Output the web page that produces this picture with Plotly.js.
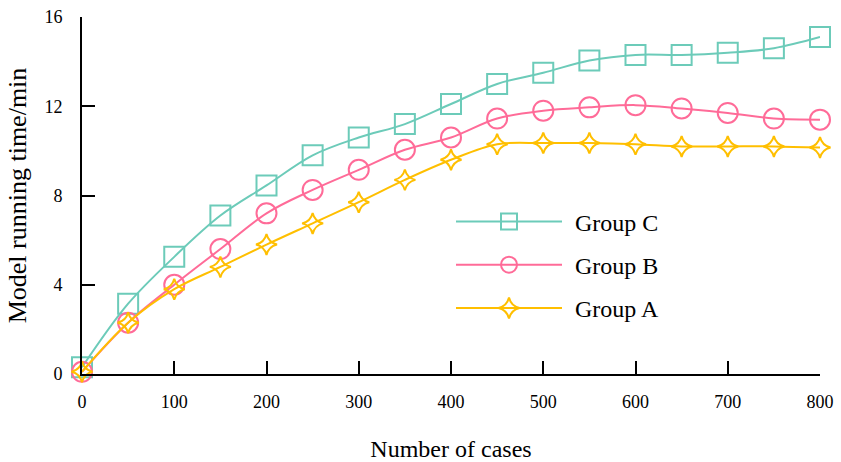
<!DOCTYPE html>
<html>
<head>
<meta charset="utf-8">
<script src="https://cdn.plot.ly/plotly-3.0.1.min.js"></script>
<style>html,body{margin:0;padding:0;background:#fff;}#chart{width:841px;height:462px;}</style>
</head>
<body>
<div id="chart"></div>
<script>
var cases = [0, 50, 100, 150, 200, 250, 300, 350, 400, 450, 500, 550, 600, 650, 700, 750, 800];
var groupC = [0.3, 3.15, 5.25, 7.1, 8.45, 9.8, 10.6, 11.2, 12.1, 13.0, 13.5, 14.05, 14.3, 14.3, 14.4, 14.6, 15.1];
var groupB = [0.1, 2.3, 4.0, 5.6, 7.2, 8.25, 9.15, 10.05, 10.6, 11.45, 11.8, 11.95, 12.05, 11.9, 11.7, 11.45, 11.4];
var groupA = [0.1, 2.3, 3.8, 4.8, 5.8, 6.75, 7.7, 8.7, 9.6, 10.3, 10.35, 10.35, 10.3, 10.2, 10.2, 10.2, 10.15];
var xTicks = [0, 100, 200, 300, 400, 500, 600, 700, 800];
var yTicks = [0, 4, 8, 12, 16];
var names = ['Group C', 'Group B', 'Group A'];
var colors = ['#6ccbb9', '#ff6b98', '#ffbf00'];
var symbols = ['square-open', 'circle-open', 'star-diamond-open'];
var sizes = [20, 20, 15];
var series = [groupC, groupB, groupA];

var font = 'Liberation Serif, Times New Roman, serif';
var traces = series.map(function (ys, i) {
  return {
    x: cases, y: ys, name: '\u2004' + names[i], type: 'scatter', mode: 'lines+markers',
    legendgroup: 'g' + i,
    line: {color: colors[i], width: 2, shape: 'spline', smoothing: 1},
    marker: {symbol: symbols[i], size: sizes[i], color: colors[i], line: {color: colors[i], width: 2}},
    cliponaxis: false
  };
});

var layout = {
  width: 841, height: 462,
  margin: {l: 82, r: 21, t: 17, b: 88},
  paper_bgcolor: '#fff', plot_bgcolor: '#fff',
  font: {family: font, color: '#000', size: 18},
  showlegend: true,
  legend: {
    x: 0.5, y: 0.489, xanchor: 'left', yanchor: 'top',
    font: {family: font, size: 24, color: '#000'},
    bgcolor: 'rgba(0,0,0,0)', itemwidth: 106, tracegroupgap: 9,
    traceorder: 'grouped'
  },
  xaxis: {
    range: [0, 800], tickvals: xTicks, ticktext: xTicks.map(String),
    showgrid: false, zeroline: false, showline: true, linecolor: '#000', linewidth: 2,
    ticks: 'inside', ticklen: 13, tickwidth: 2, tickcolor: '#000',
    ticklabelstandoff: 10,
    tickfont: {family: font, size: 18, color: '#000'},
    title: {text: 'Number of cases', font: {family: font, size: 24, color: '#000'}, standoff: 30}
  },
  yaxis: {
    range: [0, 16], tickvals: yTicks, ticktext: yTicks.map(String),
    showgrid: false, zeroline: false, showline: true, linecolor: '#000', linewidth: 2,
    ticks: 'inside', ticklen: 13, tickwidth: 2, tickcolor: '#000',
    ticklabelstandoff: 14,
    tickfont: {family: font, size: 18, color: '#000'},
    title: {text: 'Model running time/min\u2002', font: {family: font, size: 26, color: '#000'}, standoff: 10}
  }
};

Plotly.newPlot('chart', traces, layout, {staticPlot: true, displayModeBar: false});
</script>
</body>
</html>
